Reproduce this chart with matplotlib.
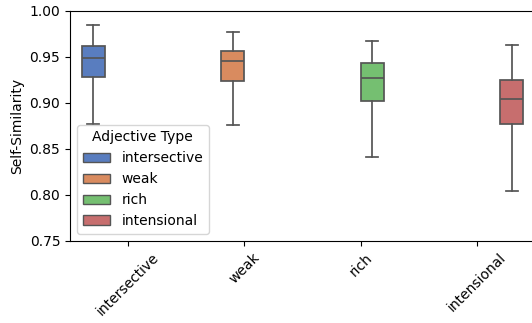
import colorsys
import matplotlib
matplotlib.use("Agg")
import matplotlib.pyplot as plt
from matplotlib.patches import Patch
from matplotlib.colors import to_rgb

categories = ["intersective", "weak", "rich", "intensional"]
whislo = [0.877, 0.876, 0.841, 0.804]
q1 = [0.9275, 0.924, 0.902, 0.877]
med = [0.949, 0.9455, 0.927, 0.904]
q3 = [0.9616, 0.956, 0.943, 0.925]
whishi = [0.984, 0.977, 0.967, 0.963]

base_colors = ["#4878d0", "#ee854a", "#6acc64", "#d65f5f"]


def desaturate(color, prop):
    h, l, s = colorsys.rgb_to_hls(*to_rgb(color))
    return colorsys.hls_to_rgb(h, l, s * prop)


colors = [desaturate(c, 0.75) for c in base_colors]
line_color = "#555555"

fig = plt.figure(figsize=(5.32, 3.23), dpi=100)
ax = fig.add_axes([70 / 532, (323 - 240.7) / 323, 465 / 532, 230 / 323])

n = len(categories)
band = 0.8 / n
for i, cat in enumerate(categories):
    pos = i - 0.4 + band * (i + 0.5)
    stats = [dict(med=med[i], q1=q1[i], q3=q3[i], whislo=whislo[i],
                  whishi=whishi[i], fliers=[], label=cat)]
    ax.bxp(stats, positions=[pos], widths=band, patch_artist=True,
           showfliers=False,
           boxprops=dict(facecolor=colors[i], edgecolor=line_color, linewidth=1.25),
           medianprops=dict(color=line_color, linewidth=1.25),
           whiskerprops=dict(color=line_color, linewidth=1.25),
           capprops=dict(color=line_color, linewidth=1.25),
           manage_ticks=False)

ax.set_xlim(-0.5, n - 0.5)
ax.set_ylim(0.75, 1.0)
ax.set_xticks(range(n))
ax.set_xticklabels(categories, rotation=45, ha="center")
ax.set_yticks([0.75, 0.80, 0.85, 0.90, 0.95, 1.00])
ax.set_yticklabels(["0.75", "0.80", "0.85", "0.90", "0.95", "1.00"])
ax.set_ylabel("Self-Similarity")

handles = [Patch(facecolor=colors[i], edgecolor=line_color, linewidth=1.0,
                 label=categories[i]) for i in range(n)]
ax.legend(handles=handles, title="Adjective Type", loc="lower left")

fig.savefig("out.png", dpi=100)
